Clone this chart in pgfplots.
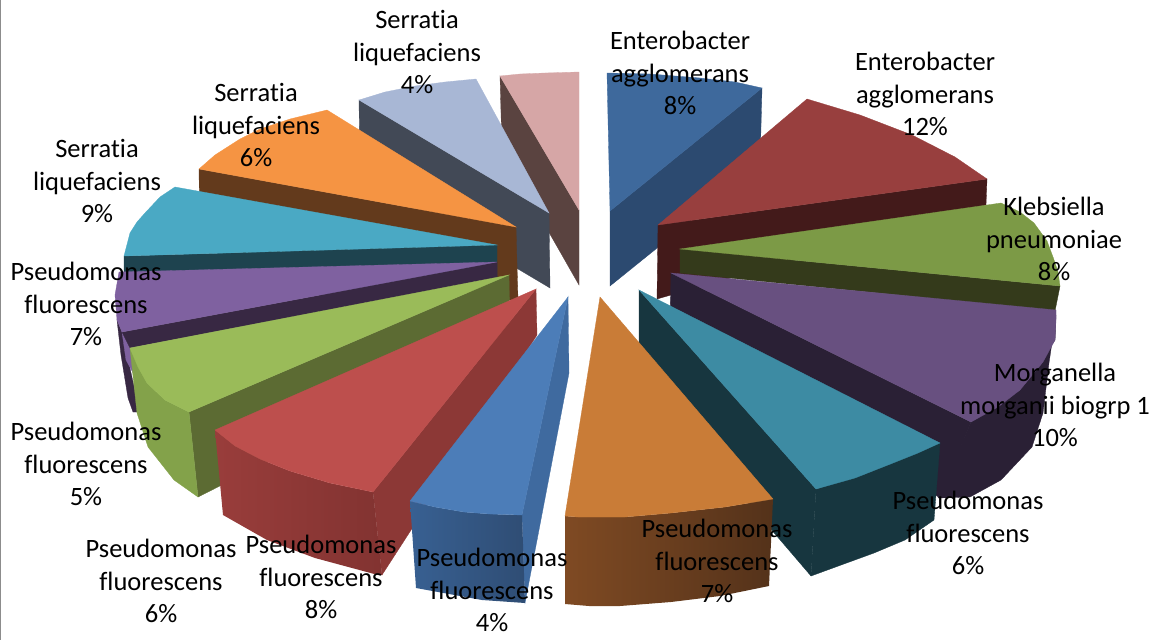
\documentclass[border=0pt]{standalone}
\usepackage{pgfplots}
\pgfplotsset{compat=1.18}
\usepackage{fontspec}
\setmainfont[Ligatures=NoCommon]{Carlito}
\definecolor{pinkT}{HTML}{D6A6A6}\definecolor{pinkS}{HTML}{5A4340}
\definecolor{greyT}{HTML}{A8B7D5}\definecolor{greyS}{HTML}{424956}
\definecolor{oranT}{HTML}{F59443}\definecolor{oranS}{HTML}{633A1C}
\definecolor{tealT}{HTML}{4AA9C4}\definecolor{tealS}{HTML}{1E434F}
\definecolor{purpT}{HTML}{7F61A0}\definecolor{purpS}{HTML}{382843}
\definecolor{lgrnT}{HTML}{9ABB59}\definecolor{lgrnS}{HTML}{5C6B33}\definecolor{lgrnF}{HTML}{83A24A}
\definecolor{redT}{HTML}{BD4F4D}\definecolor{redS}{HTML}{8C3836}\definecolor{redA}{HTML}{993D3B}\definecolor{redB}{HTML}{823331}
\definecolor{bluT}{HTML}{4C7DB8}\definecolor{bluS}{HTML}{3F6A9F}\definecolor{bluA}{HTML}{386092}\definecolor{bluB}{HTML}{2F4D74}
\definecolor{brnT}{HTML}{C97C37}\definecolor{brnA}{HTML}{7F4A23}\definecolor{brnB}{HTML}{54321A}
\definecolor{tl2T}{HTML}{3D8BA3}\definecolor{tl2S}{HTML}{17363F}
\definecolor{pr2T}{HTML}{685080}\definecolor{pr2S}{HTML}{2A2035}
\definecolor{gr2T}{HTML}{7C9A46}\definecolor{gr2S}{HTML}{343A1B}
\definecolor{rd2T}{HTML}{983F3E}\definecolor{rd2S}{HTML}{431A1A}
\definecolor{bl2T}{HTML}{3E699C}\definecolor{bl2S}{HTML}{2C4A70}
\pgfplotsset{
  F/.style={draw=#1,line width=0.3pt,fill=#1,forget plot},
  G/.style 2 args={draw=none,left color=#1,right color=#2,forget plot},
}
\tikzset{lab/.style={align=center,font=\fontsize{26.5}{32.5}\selectfont,text=black,inner sep=0pt}}
\begin{document}
\begin{tikzpicture}
\useasboundingbox (0,0) rectangle (1158pt,640pt);
\begin{axis}[x=1pt,y=1pt,xmin=0,xmax=1158,ymin=0,ymax=640,y dir=reverse,
  hide axis,clip=true,anchor=south west,at={(0,0)}]
\addplot[draw=black!45,line width=2pt,forget plot] coordinates {(0,0)(0,640)};
% pink, unlabelled
\addplot[F=pinkS] coordinates {(500,76)(579,210)(579,285)(502,150)} --cycle;
\addplot[F=pinkT] coordinates {(500,76)(520,74)(545,73)(579,72)(579,210)} --cycle;
% blue-grey 4%
\addplot[F=greyS] coordinates {(359,100)(549,213)(550,288)(360,175)} --cycle;
\addplot[F=greyT] coordinates {(359,100)(385,92)(415,86)(445,82)(476,79)(549,213)} --cycle;
% orange 6%
\addplot[F=oranS] coordinates {(199,169)(516,227)(518,300)(510,300)(200,245)} --cycle;
\addplot[F=oranT] coordinates {(199,169)(215,155)(240,139)(260,129)(290,119)(327,110)(516,227)} --cycle;
% teal 9%
\addplot[F=tealS] coordinates {(124,256)(497,245)(497,290)(124,300)} --cycle;
\addplot[F=tealT] coordinates {(124,256)(130,233)(137,222)(145,213)(160,197)(175,187)(497,245)} --cycle;
% purple 7%
\addplot[F=purpS] coordinates {(117,320)(122,332)(137,400)(137,412)(133,412)(128,398)(121,355)} --cycle;
\addplot[F=purpT] coordinates {(122,332)(130,348)(137,380)(126,360)} --cycle;
\addplot[F=purpS] coordinates {(122,332)(497,262)(497,278)(130,348)} --cycle;
\addplot[F=purpT] coordinates {(119,272)(497,262)(122,332)(117,320)(115,295)} --cycle;
% light green 5%
\addplot[F=lgrnS] coordinates {(189,412)(509,275)(510,340)(198,497)} --cycle;
\addplot[F=lgrnF] coordinates {(130,348)(147,383)(165,400)(189,412)(198,497)(174,480)(148,447)(137,413)} --cycle;
\addplot[F=lgrnT] coordinates {(130,348)(138,367)(147,383)(165,400)(189,412)(509,275)} --cycle;
% blue 8%
\addplot[F=bl2S] coordinates {(762,88)(610,211)(610,286)(760,165)} --cycle;
\addplot[F=bl2T] coordinates {(607,73)(650,74)(700,78)(735,82)(762,88)(610,211)} --cycle;
% red 12%
\addplot[F=rd2S] coordinates {(658,225)(987,179)(986,205)(657,299)} --cycle;
\addplot[F=rd2T] coordinates {(658,225)(807,99)(860,115)(912,135)(955,157)(987,179)} --cycle;
% green 8%
\addplot[F=gr2S] coordinates {(680,249)(1060,286)(1055,311)(680,273)} --cycle;
\addplot[F=gr2T] coordinates {(680,249)(1001,203)(1020,212)(1034,223)(1047,241)(1053,257)(1058,272)(1060,286)} --cycle;
% purple 10%
\addplot[F=pr2S] coordinates {(671,273)(971,422)(940,498)(670,320)} --cycle;
\addplot[F=pr2S] coordinates {(971,422)(1020,390)(1055,340)(1056,315)(1049,363)(1043,413)(1032,447)(1001,480)(970,497)(938,498)} --cycle;
\addplot[F=pr2T] coordinates {(671,273)(1056,310)(1056,320)(1055,340)(1043,362)(1020,390)(998,407)(971,422)} --cycle;
% dark teal 6%
\addplot[F=tl2S] coordinates {(639,290)(816,489)(811,576)(639,375)} --cycle;
\addplot[F=tl2S] coordinates {(816,489)(893,463)(940,443)(934,520)(905,540)(874,553)(811,576)} --cycle;
\addplot[F=tl2T] coordinates {(639,290)(940,443)(918,453)(893,463)(855,478)(816,489)} --cycle;
% red 8%
\addplot[F=redS] coordinates {(373,492)(536,289)(537,335)(382,575)} --cycle;
\addplot[G={redA}{redB}] coordinates {(215,430)(235,446)(260,459)(290,471)(330,483)(373,492)(382,575)(378,575)(315,558)(267,540)(223,515)} --cycle;
\addplot[F=redT] coordinates {(215,430)(235,446)(260,459)(290,471)(330,483)(373,492)(536,289)} --cycle;
% blue 4%
\addplot[F=bluS] coordinates {(522,515)(568,297)(569,373)(525,603)} --cycle;
\addplot[G={bluA}{bluB}] coordinates {(410,501)(435,507)(464,512)(490,514)(522,515)(525,603)(482,600)(416,588)} --cycle;
\addplot[F=bluT] coordinates {(410,501)(435,507)(464,512)(490,514)(522,515)(568,297)} --cycle;
% brown-orange 7%
\addplot[G={brnA}{brnB}] coordinates {(565,516)(578,517)(625,517)(671,513)(725,507)(773,499)(769,586)(720,596)(671,602)(620,606)(589,606)(565,604)} --cycle;
\addplot[F=brnT] coordinates {(565,516)(578,517)(625,517)(671,513)(725,507)(773,499)(600,297)} --cycle;
% labels
\node[lab] at (axis cs:680,73) {Enterobacter\\agglomerans\\8\%};
\node[lab] at (axis cs:925,94) {Enterobacter\\agglomerans\\12\%};
\node[lab] at (axis cs:1054,239) {Klebsiella\\pneumoniae\\8\%};
\node[lab] at (axis cs:1055,405) {Morganella\\morganii biogrp 1\\10\%};
\node[lab] at (axis cs:968,533) {Pseudomonas\\fluorescens\\6\%};
\node[lab] at (axis cs:717,561) {Pseudomonas\\fluorescens\\7\%};
\node[lab] at (axis cs:492,590) {Pseudomonas\\fluorescens\\4\%};
\node[lab] at (axis cs:321,577) {Pseudomonas\\fluorescens\\8\%};
\node[lab] at (axis cs:161,581) {Pseudomonas\\fluorescens\\6\%};
\node[lab] at (axis cs:86,464) {Pseudomonas\\fluorescens\\5\%};
\node[lab] at (axis cs:86,304) {Pseudomonas\\fluorescens\\7\%};
\node[lab] at (axis cs:97,181) {Serratia\\liquefaciens\\9\%};
\node[lab] at (axis cs:256,125) {Serratia\\liquefaciens\\6\%};
\node[lab] at (axis cs:417,52) {Serratia\\liquefaciens\\4\%};
\end{axis}
\end{tikzpicture}
\end{document}
